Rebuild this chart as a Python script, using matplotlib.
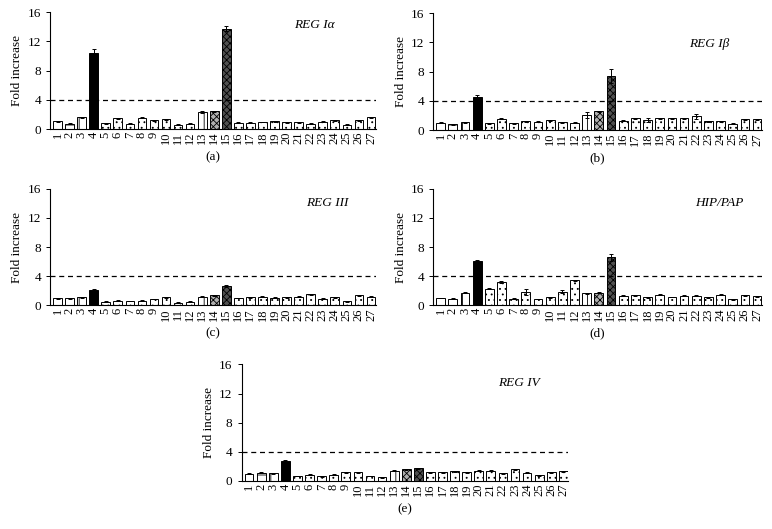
import matplotlib.pyplot as plt

plt.rcParams['font.family'] = ['Liberation Serif', 'DejaVu Serif']
plt.rcParams['hatch.linewidth'] = 0.6
plt.rcParams['hatch.color'] = '#555555'

muestras = list(range(1, 28))
etiquetas = [str(m) for m in muestras]

# Valores (fold increase)
reg1a = [1.05, 0.73, 1.64, 10.4, 0.78, 1.5, 0.73, 1.55, 1.19, 1.37, 0.6, 0.73, 2.33, 2.42,
         13.74, 0.87, 0.87, 0.96, 1.05, 0.91, 0.91, 0.73, 1.0, 1.19, 0.6, 1.23, 1.6]
reg1a_err = [0.08, 0.05, 0.08, 0.6, 0.06, 0.08, 0.05, 0.08, 0.06, 0.07, 0.05, 0.05, 0.08, 0.08,
             0.35, 0.06, 0.06, 0.06, 0.06, 0.06, 0.06, 0.05, 0.06, 0.06, 0.05, 0.07, 0.08]

reg1b = [1.0, 0.82, 1.05, 4.57, 0.96, 1.55, 0.96, 1.19, 1.14, 1.37, 1.1, 1.0, 2.1, 2.56,
         7.4, 1.28, 1.64, 1.37, 1.6, 1.6, 1.64, 1.87, 1.23, 1.19, 0.87, 1.5, 1.46]
reg1b_err = [0.06, 0.05, 0.06, 0.27, 0.06, 0.07, 0.06, 0.06, 0.06, 0.07, 0.06, 0.06, 0.4, 0.1,
             0.96, 0.07, 0.08, 0.23, 0.08, 0.08, 0.08, 0.33, 0.07, 0.06, 0.05, 0.08, 0.07]

reg3 = [0.97, 0.97, 1.1, 2.1, 0.5, 0.64, 0.6, 0.64, 0.87, 1.1, 0.37, 0.5, 1.2, 1.38,
        2.67, 1.0, 1.1, 1.2, 1.05, 1.1, 1.2, 1.5, 0.92, 1.1, 0.55, 1.38, 1.15]
reg3_err = [0.05, 0.05, 0.06, 0.1, 0.04, 0.05, 0.04, 0.05, 0.05, 0.06, 0.03, 0.04, 0.06, 0.06,
            0.12, 0.05, 0.06, 0.06, 0.05, 0.06, 0.06, 0.07, 0.05, 0.06, 0.04, 0.06, 0.06]

hip_pap = [1.0, 0.91, 1.69, 6.03, 2.24, 3.2, 0.91, 1.83, 0.87, 1.1, 1.87, 3.42, 1.64, 1.74,
           6.58, 1.28, 1.37, 1.1, 1.42, 1.14, 1.32, 1.28, 1.1, 1.46, 0.82, 1.37, 1.23]
hip_pap_err = [0.05, 0.05, 0.07, 0.12, 0.07, 0.1, 0.05, 0.4, 0.05, 0.06, 0.23, 0.1, 0.07, 0.07,
               0.5, 0.06, 0.06, 0.06, 0.06, 0.06, 0.06, 0.06, 0.06, 0.06, 0.05, 0.06, 0.06]

reg4 = [0.97, 1.1, 1.06, 2.72, 0.69, 0.83, 0.6, 0.83, 1.15, 1.15, 0.65, 0.5, 1.38, 1.6,
        1.7, 1.15, 1.2, 1.34, 1.2, 1.38, 1.38, 1.06, 1.57, 1.1, 0.78, 1.15, 1.29]
reg4_err = [0.05, 0.06, 0.06, 0.1, 0.04, 0.05, 0.04, 0.05, 0.06, 0.06, 0.04, 0.04, 0.06, 0.07,
            0.07, 0.06, 0.06, 0.06, 0.06, 0.06, 0.06, 0.06, 0.07, 0.06, 0.05, 0.06, 0.06]

umbral = 4


# Estilo de cada barra: (color de relleno, trama)
def estilo(m):
    if m == 1:
        return 'white', None
    if m == 2:
        return 'white', '-'
    if m in (3, 13):
        return 'white', '||'
    if m == 4:
        return 'black', None
    if m == 14:
        return '#b0b0b0', 'xxxxx'
    if m == 15:
        return '#505050', 'xxxxx'
    return 'white', '...'


def panel(rect, valores, errores, titulo, tpos, letra):
    ax = fig.add_axes(rect)
    for m, v, e in zip(muestras, valores, errores):
        color, trama = estilo(m)
        ax.bar(m, v, width=0.72, color=color, edgecolor='black', linewidth=0.7,
               hatch=trama, yerr=e, capsize=1.5,
               error_kw=dict(elinewidth=0.7, capthick=0.7, ecolor='black'))
    ax.axhline(umbral, color='black', linestyle=(0, (4, 3)), linewidth=0.9)
    ax.set_xlim(0.38, 27.4)
    ax.set_ylim(0, 16)
    ax.set_yticks([0, 4, 8, 12, 16])
    ax.set_xticks(muestras)
    ax.set_xticklabels(etiquetas, rotation=90, fontsize=9)
    ax.tick_params(axis='x', length=0, pad=2)
    ax.tick_params(axis='y', labelsize=9.5, length=3, width=0.7)
    for s in ['top', 'right']:
        ax.spines[s].set_visible(False)
    for s in ['left', 'bottom']:
        ax.spines[s].set_linewidth(0.8)
    ax.set_ylabel('Fold increase', fontsize=9.5, labelpad=3)
    ax.text(tpos[0], tpos[1], titulo, transform=ax.transAxes, ha='center', va='center',
            fontsize=9.5, style='italic')
    ax.text(0.5, -0.19, letra, transform=ax.transAxes, ha='center', va='top', fontsize=9.5)
    return ax


fig = plt.figure(figsize=(7.72, 5.29), dpi=100)

panel([0.0648, 0.756, 0.422, 0.221], reg1a, reg1a_err, 'REG I\u03b1', (0.81, 0.89), '(a)')
panel([0.561, 0.754, 0.426, 0.221], reg1b, reg1b_err, 'REG I\u03b2', (0.84, 0.74), '(b)')
panel([0.0648, 0.423, 0.422, 0.22], reg3, reg3_err, 'REG III', (0.85, 0.88), '(c)')
panel([0.561, 0.423, 0.426, 0.22], hip_pap, hip_pap_err, 'HIP/PAP', (0.87, 0.88), '(d)')
panel([0.313, 0.091, 0.423, 0.22], reg4, reg4_err, 'REG IV', (0.85, 0.845), '(e)')

fig.savefig('out.png', dpi=100)
